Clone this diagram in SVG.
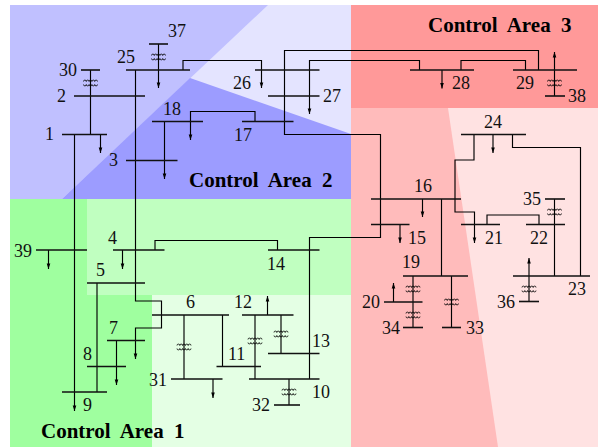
<svg xmlns="http://www.w3.org/2000/svg" xmlns:xlink="http://www.w3.org/1999/xlink" width="598" height="447" viewBox="0 0 598 447">
<style>
text{font-family:"Liberation Serif","Times New Roman",serif;font-size:18px;fill:#111}
.t{font-weight:bold;font-size:21px;word-spacing:5px;fill:#000}
.b{stroke:#111;stroke-width:1.6;fill:none}
.c{stroke:#000;stroke-width:1.15;fill:none}
.a{marker-end:url(#ah)}
.tr{stroke:#000;stroke-width:.8;fill:none}
</style>
<defs>
<marker id="ah" markerUnits="userSpaceOnUse" markerWidth="8" markerHeight="6" refX="7" refY="3" orient="auto" viewBox="0 0 8 6"><path d="M1.500 1.200 L7 3 L1.500 4.800 Z" fill="#000"/></marker>
<path id="x" d="M-7 -1.500a1.400 1.400 0 0 1 2.800 0a1.400 1.400 0 0 1 2.800 0a1.400 1.400 0 0 1 2.800 0a1.400 1.400 0 0 1 2.800 0a1.400 1.400 0 0 1 2.800 0M-7 1.500a1.400 1.400 0 0 0 2.800 0a1.400 1.400 0 0 0 2.800 0a1.400 1.400 0 0 0 2.800 0a1.400 1.400 0 0 0 2.800 0a1.400 1.400 0 0 0 2.800 0" class="tr"/>
</defs>
<rect width="598" height="447" fill="#fff"/>
<g id="areas">
<rect x="10" y="5" width="341" height="194" fill="#e4e4ff"/>
<polygon points="10,5 268,5 62,199 10,199" fill="#c0c0ff"/>
<polygon points="190,78 351,134 351,199 62,199" fill="#9c9cff"/>
<rect x="10" y="199" width="341" height="248" fill="#e4ffe4"/>
<rect x="87" y="199" width="264" height="96" fill="#c0ffc0"/>
<polygon points="10,199 87,199 87,295 152,295 152,447 10,447" fill="#9fff9f"/>
<rect x="351" y="108" width="247" height="339" fill="#ffbbbb"/>
<polygon points="448,108 598,108 598,447 498,447" fill="#ffe2e2"/>
<rect x="351" y="5" width="247" height="103" fill="#ff9999"/>
</g>
<g id="connectors">
<path class="c a" d="M74.500 134V411"/>
<path class="c a" d="M100.500 134V153"/>
<path class="c" d="M90.500 134V70"/>
<path class="c a" d="M158.500 44V88"/>
<path class="c a" d="M135.500 70V301H161.500V328H135.500V359"/>
<path class="c" d="M97 283V392"/>
<path class="c a" d="M116.500 341V385"/>
<path class="c" d="M184 315V379"/>
<path class="c a" d="M213 379V398"/>
<path class="c" d="M222.500 315V366.500"/>
<path class="c a" d="M267.500 315V296"/>
<path class="c" d="M255 315V379"/>
<path class="c" d="M281 315V353.500"/>
<path class="c" d="M289 379V405"/>
<path class="c" d="M309.500 379V237.500H380.500V134.500H284.500V50.500H538.500V70"/>
<path class="c" d="M525.500 70V60.500H461V70"/>
<path class="c" d="M309.500 70V60.500H419.500V70"/>
<path class="c a" d="M183 70V60.500H261.500V88"/>
<path class="c a" d="M309.500 70V114"/>
<path class="c a" d="M442 70V88.500"/>
<path class="c a" d="M554.500 96V52"/>
<path class="c a" d="M255 121.500V111.500H190.500V140"/>
<path class="c a" d="M164.500 121.500V179"/>
<path class="c a" d="M48.500 250V269"/>
<path class="c a" d="M122.500 250V269"/>
<path class="c" d="M155 250V240.500H277.500V250"/>
<path class="c a" d="M422.500 199V217"/>
<path class="c" d="M441.500 199V276"/>
<path class="c a" d="M400 224.500V243"/>
<path class="c a" d="M474 134V160H455V212H474.500V243"/>
<path class="c" d="M487 224.500V215H539V224.500"/>
<path class="c" d="M554.500 199V276"/>
<path class="c" d="M580.500 276V147.500H512.500V134"/>
<path class="c a" d="M493 134V153"/>
<path class="c a" d="M529 301.500V258"/>
<path class="c" d="M413 276V327.500"/>
<path class="c a" d="M393.500 302V283"/>
<path class="c" d="M451.500 276V327.500"/>
<use xlink:href="#x" href="#x" x="90.500" y="83"/>
<use xlink:href="#x" href="#x" x="158.500" y="57"/>
<use xlink:href="#x" href="#x" x="184" y="347"/>
<use xlink:href="#x" href="#x" x="255" y="341"/>
<use xlink:href="#x" href="#x" x="281" y="334"/>
<use xlink:href="#x" href="#x" x="289" y="392"/>
<use xlink:href="#x" href="#x" x="554.500" y="83"/>
<use xlink:href="#x" href="#x" x="554.500" y="212"/>
<use xlink:href="#x" href="#x" x="529" y="289"/>
<use xlink:href="#x" href="#x" x="413" y="289"/>
<use xlink:href="#x" href="#x" x="413" y="315"/>
<use xlink:href="#x" href="#x" x="451.500" y="302"/>
</g>
<g id="bus1"><path class="b" d="M62 134.500H107"/><text x="45" y="140">1</text></g>
<g id="bus2"><path class="b" d="M74 96H145"/><text x="57" y="102">2</text></g>
<g id="bus3"><path class="b" d="M126 160.500H177.500"/><text x="109" y="166">3</text></g>
<g id="bus4"><path class="b" d="M113 250H164.500"/><text x="108" y="244">4</text></g>
<g id="bus5"><path class="b" d="M87 283H145"/><text x="96" y="276">5</text></g>
<g id="bus6"><path class="b" d="M152 315H229"/><text x="186" y="308">6</text></g>
<g id="bus7"><path class="b" d="M107 340.500H145"/><text x="109" y="334">7</text></g>
<g id="bus8"><path class="b" d="M87 366.500H126"/><text x="83" y="360">8</text></g>
<g id="bus9"><path class="b" d="M62 392H107"/><text x="83" y="411">9</text></g>
<g id="bus10"><path class="b" d="M249 379H319.500"/><text x="312" y="398">10</text></g>
<g id="bus11"><path class="b" d="M216.500 366.500H261"/><text x="228" y="360">11</text></g>
<g id="bus12"><path class="b" d="M242 315H293.500"/><text x="234" y="308">12</text></g>
<g id="bus13"><path class="b" d="M268 353.500H319.500"/><text x="312" y="347">13</text></g>
<g id="bus14"><path class="b" d="M268 250H319.500"/><text x="267" y="270">14</text></g>
<g id="bus15"><path class="b" d="M371 224.500H409.500"/><text x="408" y="244">15</text></g>
<g id="bus16"><path class="b" d="M371 199H461"/><text x="414" y="192">16</text></g>
<g id="bus17"><path class="b" d="M242 121.500H293.500"/><text x="234" y="141">17</text></g>
<g id="bus18"><path class="b" d="M152 121.500H203"/><text x="163" y="115">18</text></g>
<g id="bus19"><path class="b" d="M403 276H468"/><text x="402" y="268">19</text></g>
<g id="bus20"><path class="b" d="M384 302H422.500"/><text x="362" y="308">20</text></g>
<g id="bus21"><path class="b" d="M461 224.500H500"/><text x="485" y="244">21</text></g>
<g id="bus22"><path class="b" d="M526 224.500H565"/><text x="530" y="244">22</text></g>
<g id="bus23"><path class="b" d="M513 276H590"/><text x="568" y="295">23</text></g>
<g id="bus24"><path class="b" d="M461 134.500H526"/><text x="484" y="128">24</text></g>
<g id="bus25"><path class="b" d="M126 70H190"/><text x="117" y="63">25</text></g>
<g id="bus26"><path class="b" d="M255 70H319.500"/><text x="233" y="89">26</text></g>
<g id="bus27"><path class="b" d="M268 96H319.500"/><text x="323" y="102">27</text></g>
<g id="bus28"><path class="b" d="M410 70H474"/><text x="452" y="89">28</text></g>
<g id="bus29"><path class="b" d="M513 70H577"/><text x="516" y="89">29</text></g>
<g id="bus30"><path class="b" d="M81 70H100"/><text x="59" y="76">30</text></g>
<g id="bus31"><path class="b" d="M171 379H222.500"/><text x="149" y="386">31</text></g>
<g id="bus32"><path class="b" d="M274 405H300"/><text x="252" y="411">32</text></g>
<g id="bus33"><path class="b" d="M442 327.500H461"/><text x="466" y="334">33</text></g>
<g id="bus34"><path class="b" d="M403 327.500H423"/><text x="382" y="334">34</text></g>
<g id="bus35"><path class="b" d="M545 199H565"/><text x="523" y="205">35</text></g>
<g id="bus36"><path class="b" d="M519 301.500H539"/><text x="497" y="308">36</text></g>
<g id="bus37"><path class="b" d="M149 44H168"/><text x="168" y="37">37</text></g>
<g id="bus38"><path class="b" d="M545 96H565"/><text x="568" y="102">38</text></g>
<g id="bus39"><path class="b" d="M36 250H87"/><text x="14" y="257">39</text></g>
<text class="t" x="41" y="438">Control Area 1</text>
<text class="t" x="189" y="187">Control Area 2</text>
<text class="t" x="428" y="32">Control Area 3</text>
</svg>
